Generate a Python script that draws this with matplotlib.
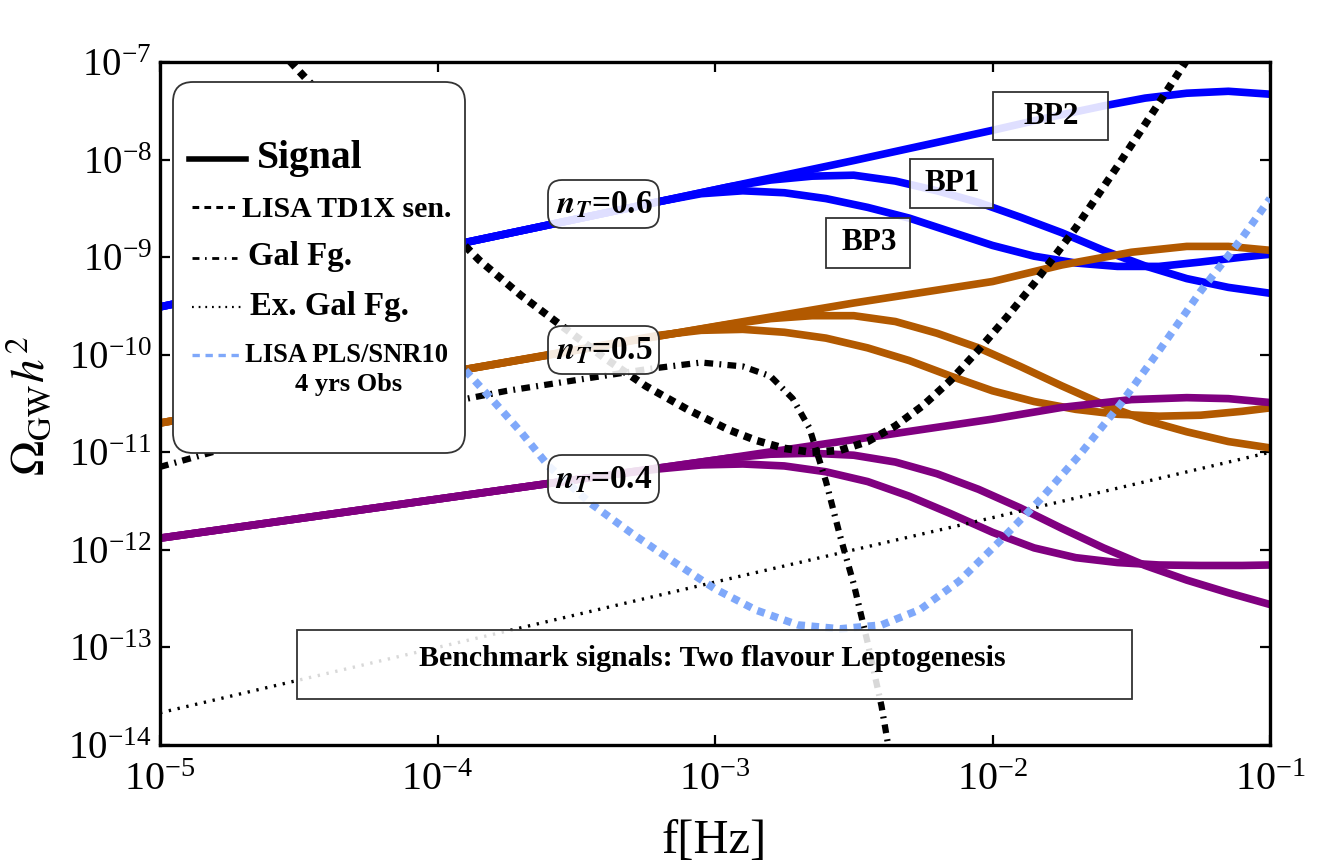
import numpy as np
import matplotlib
matplotlib.use("Agg")
import matplotlib.pyplot as plt
from matplotlib.patches import FancyBboxPatch, Rectangle
from matplotlib.lines import Line2D
from matplotlib.ticker import NullLocator

plt.rcParams['font.family'] = ['Liberation Serif', 'DejaVu Serif']
plt.rcParams['mathtext.fontset'] = 'stix'

# ---------------- data (log10 f [Hz], log10 Omega_GW h^2) ----------------
# n_T = 0.6 (blue)
bp2_06_lf = [-5, -4, -3, -2.5, -2, -1.8, -1.6, -1.45, -1.3, -1.15, -1.0]
bp2_06_lo = [-9.51, -8.91, -8.31, -8.01, -7.70, -7.57, -7.45, -7.37, -7.32, -7.30, -7.33]
bp1_06_lf = [-5, -4, -3.25, -3.1, -2.95, -2.8, -2.65, -2.5, -2.35, -2.2, -2.05, -1.9, -1.75, -1.6, -1.45, -1.3, -1.15, -1.0]
bp1_06_lo = [-9.51, -8.91, -8.46, -8.37, -8.28, -8.21, -8.17, -8.16, -8.22, -8.32, -8.44, -8.59, -8.75, -8.93, -9.09, -9.22, -9.31, -9.37]
bp3_06_lf = [-5, -4, -3.4, -3.2, -3.05, -2.9, -2.75, -2.6, -2.45, -2.3, -2.15, -2.0, -1.85, -1.7, -1.55, -1.4, -1.25, -1.1, -1.0]
bp3_06_lo = [-9.51, -8.91, -8.55, -8.43, -8.35, -8.32, -8.34, -8.40, -8.49, -8.60, -8.74, -8.88, -8.99, -9.06, -9.095, -9.095, -9.05, -9.0, -8.97]

# n_T = 0.5 (orange)
bp2_05_lf = [-5, -4, -3, -2.5, -2.0, -1.75, -1.5, -1.3, -1.15, -1.0]
bp2_05_lo = [-10.70, -10.20, -9.71, -9.47, -9.25, -9.08, -8.95, -8.89, -8.89, -8.93]
bp1_05_lf = [-5, -4, -3.25, -3.1, -2.95, -2.8, -2.65, -2.5, -2.35, -2.2, -2.05, -1.9, -1.75, -1.6, -1.45, -1.3, -1.15, -1.0]
bp1_05_lo = [-10.70, -10.20, -9.83, -9.76, -9.69, -9.63, -9.60, -9.60, -9.66, -9.78, -9.93, -10.12, -10.32, -10.51, -10.67, -10.79, -10.89, -10.955]
bp3_05_lf = [-5, -4, -3.4, -3.2, -3.05, -2.9, -2.75, -2.6, -2.45, -2.3, -2.15, -2.0, -1.85, -1.7, -1.55, -1.4, -1.25, -1.1, -1.0]
bp3_05_lo = [-10.70, -10.20, -9.90, -9.80, -9.75, -9.74, -9.77, -9.83, -9.93, -10.06, -10.22, -10.37, -10.48, -10.56, -10.61, -10.63, -10.62, -10.58, -10.545]

# n_T = 0.4 (purple)
bp2_04_lf = [-5, -4, -3, -2.5, -2.0, -1.75, -1.5, -1.3, -1.15, -1.0]
bp2_04_lo = [-11.88, -11.48, -11.08, -10.87, -10.66, -10.54, -10.46, -10.44, -10.45, -10.49]
bp1_04_lf = [-5, -4, -3.25, -3.1, -2.95, -2.8, -2.65, -2.5, -2.35, -2.2, -2.05, -1.9, -1.75, -1.6, -1.45, -1.3, -1.15, -1.0]
bp1_04_lo = [-11.88, -11.48, -11.18, -11.12, -11.06, -11.02, -11.01, -11.03, -11.10, -11.22, -11.38, -11.57, -11.78, -11.98, -12.16, -12.31, -12.44, -12.56]
bp3_04_lf = [-5, -4, -3.4, -3.2, -3.05, -2.9, -2.75, -2.6, -2.45, -2.3, -2.15, -2.0, -1.85, -1.7, -1.55, -1.4, -1.25, -1.1, -1.0]
bp3_04_lo = [-11.88, -11.48, -11.24, -11.17, -11.13, -11.12, -11.14, -11.20, -11.30, -11.45, -11.63, -11.82, -11.98, -12.08, -12.13, -12.155, -12.16, -12.16, -12.155]

# LISA TD1X sensitivity
lisa_lf = [-4.6, -4.5, -4.25, -4.0, -3.85, -3.7, -3.55, -3.4, -3.25, -3.1, -2.95, -2.85, -2.75, -2.65, -2.55, -2.45,
           -2.35, -2.25, -2.15, -2.05, -1.95, -1.85, -1.7, -1.55, -1.4, -1.3]
lisa_lo = [-6.78, -7.09, -7.85, -8.60, -9.03, -9.39, -9.71, -10.03, -10.32, -10.56, -10.77, -10.88, -10.96, -11.00, -10.98, -10.89,
           -10.73, -10.52, -10.26, -9.95, -9.62, -9.27, -8.70, -8.07, -7.42, -6.98]

# Galactic foreground
gal_lf = [-5.0, -4.75, -4.5, -4.25, -4.0, -3.75, -3.5, -3.25, -3.05, -2.9, -2.8, -2.72, -2.66, -2.6, -2.55, -2.5, -2.45, -2.4, -2.37]
gal_lo = [-11.15, -10.95, -10.78, -10.63, -10.51, -10.37, -10.26, -10.15, -10.08, -10.12, -10.22, -10.45, -10.75, -11.3, -11.85, -12.35, -12.95, -13.6, -14.1]

# Extra-galactic foreground
exgal_lf = [-5, -4, -3, -2, -1]
exgal_lo = [-13.67, -13.00, -12.33, -11.67, -11.00]

# LISA PLS / SNR10, 4 yrs
pls_lf = [-4.3, -4.1, -3.9, -3.8, -3.7, -3.6, -3.45, -3.3, -3.15, -3.0, -2.85, -2.7, -2.55, -2.4, -2.26, -2.12,
          -1.97, -1.83, -1.69, -1.54, -1.40, -1.25, -1.1, -1.0]
pls_lo = [-8.85, -9.55, -10.16, -10.47, -10.79, -11.14, -11.52, -11.83, -12.12, -12.40, -12.62, -12.77, -12.81, -12.77, -12.61, -12.32,
          -11.90, -11.49, -11.04, -10.51, -9.96, -9.35, -8.80, -8.40]

xticks = [1e-5, 1e-4, 1e-3, 1e-2, 1e-1]
yticks = [1e-14, 1e-13, 1e-12, 1e-11, 1e-10, 1e-9, 1e-8, 1e-7]

BLUE = '#0000FF'
ORANGE = '#B25900'
PURPLE = '#800080'
LBLUE = '#7FA8FA'

def p(lf, lo):
    return 10 ** np.asarray(lf, float), 10 ** np.asarray(lo, float)

W, H = 1334, 865
fig = plt.figure(figsize=(W / 100, H / 100), dpi=100)
ax = fig.add_axes([160 / W, (H - 745) / H, 1110 / W, 683 / H])
ax.set_xscale('log')
ax.set_yscale('log')
ax.set_xlim(1e-5, 1e-1)
ax.set_ylim(1e-14, 1e-7)

lw_sig = 5.5
for (lf, lo, c) in [(bp2_06_lf, bp2_06_lo, BLUE), (bp1_06_lf, bp1_06_lo, BLUE), (bp3_06_lf, bp3_06_lo, BLUE),
                    (bp2_05_lf, bp2_05_lo, ORANGE), (bp1_05_lf, bp1_05_lo, ORANGE), (bp3_05_lf, bp3_05_lo, ORANGE),
                    (bp2_04_lf, bp2_04_lo, PURPLE), (bp1_04_lf, bp1_04_lo, PURPLE), (bp3_04_lf, bp3_04_lo, PURPLE)]:
    x, y = p(lf, lo)
    ax.plot(x, y, color=c, lw=lw_sig, solid_capstyle='butt', solid_joinstyle='round', zorder=2)

x, y = p(exgal_lf, exgal_lo)
ax.plot(x, y, color='black', lw=2.4, linestyle=(0, (0.7, 2.0)), zorder=3)
x, y = p(gal_lf, gal_lo)
ax.plot(x, y, color='black', lw=4.5, linestyle=(0, (1.4, 1.0, 0.3, 1.0)), zorder=3)
x, y = p(lisa_lf, lisa_lo)
ax.plot(x, y, color='black', lw=5.5, linestyle=(0, (1.0, 0.85)), zorder=3)
x, y = p(pls_lf, pls_lo)
ax.plot(x, y, color=LBLUE, lw=5.5, linestyle=(0, (1.0, 0.85)), zorder=3)

ax.set_xticks(xticks)
ax.set_yticks(yticks)
ax.xaxis.set_minor_locator(NullLocator())
ax.yaxis.set_minor_locator(NullLocator())
ax.tick_params(which='major', direction='in', top=True, right=True, length=7, width=1.6)
ax.tick_params(axis='x', labelsize=29, pad=12)
ax.tick_params(axis='y', labelsize=28, pad=6)
for s in ax.spines.values():
    s.set_linewidth(2.4)

fig.text(30 / W, 1 - 406 / H, r'$\Omega_{\rm GW}h^2$', rotation=90, ha='center', va='center', fontsize=34)
fig.text(714 / W, 1 - 841 / H, 'f[Hz]', ha='center', va='center', fontsize=35)

# ---------------- annotations (pixel layout) ----------------
T = fig.dpi_scale_trans
def P(x, y):
    return (x / 100.0, (H - y) / 100.0)

def rect(x0, y0, x1, y1, rounded=0.0, alpha=0.88, z=6, lw=1.3):
    (a, b) = P(x0, y1)
    w = (x1 - x0) / 100.0
    h = (y1 - y0) / 100.0
    if rounded > 0:
        patch = FancyBboxPatch((a, b), w, h, boxstyle='round,pad=0,rounding_size=%g' % rounded,
                               transform=T, facecolor=(1, 1, 1, alpha), edgecolor='#333333', lw=lw,
                               zorder=z, clip_on=False)
    else:
        patch = Rectangle((a, b), w, h, transform=T, facecolor=(1, 1, 1, alpha),
                          edgecolor='#333333', lw=lw, zorder=z, clip_on=False)
    ax.add_patch(patch)

def txt(x, y, s, fs, ha='center', va='center', z=7, **kw):
    ax.text(*P(x, y), s, transform=T, fontsize=fs, ha=ha, va=va, zorder=z,
            fontweight='bold', clip_on=False, **kw)

# n_T labels
for cy, lab in [(204, r'$\mathbfit{n}_{\mathbfit{T}}$=0.6'), (350, r'$\mathbfit{n}_{\mathbfit{T}}$=0.5'),
                (479, r'$\mathbfit{n}_{\mathbfit{T}}$=0.4')]:
    rect(548, cy - 24, 659, cy + 24, rounded=0.14)
    txt(604, cy + 1, lab, 24)

# BP labels
for (x0, y0, x1, y1, lab) in [(993, 92, 1108, 140, 'BP2'), (910, 159, 993, 208, 'BP1'), (826, 218, 910, 268, 'BP3')]:
    rect(x0, y0, x1, y1)
    txt((x0 + x1) / 2 + 1, (y0 + y1) / 2, lab, 22.5)

# Benchmark box
rect(297, 630, 1132, 699, alpha=0.85)
txt(712, 658, 'Benchmark signals: Two flavour Leptogenesis', 21.5)

# Legend
rect(173, 82, 465, 453, rounded=0.2, alpha=1.0, z=8, lw=1.3)
def key(x0, x1, y, **kw):
    a = P(x0, y); b = P(x1, y)
    ax.add_line(Line2D([a[0], b[0]], [a[1], b[1]], transform=T, zorder=9, clip_on=False, **kw))

key(189, 246, 159, color='black', lw=4)
txt(257, 168, 'Signal', 28.5, ha='left', va='baseline', z=9)
key(192, 239, 207, color='black', lw=2.2, linestyle=(0, (2.2, 1.7)))
txt(242, 217, 'LISA TD1X sen.', 21.5, ha='left', va='baseline', z=9)
key(192, 237, 258, color='black', lw=2.0, linestyle=(0, (2.5, 2.0, 0.6, 2.0)))
txt(248, 265, 'Gal Fg.', 23.7, ha='left', va='baseline', z=9)
key(192, 244, 307, color='black', lw=1.6, linestyle=(0, (0.8, 2.2)))
txt(250, 315, 'Ex. Gal Fg.', 23.7, ha='left', va='baseline', z=9)
key(192, 240, 355, color=LBLUE, lw=2.4, linestyle=(0, (2.2, 1.7)))
txt(245, 362, 'LISA PLS/SNR10', 19.2, ha='left', va='baseline', z=9)
txt(295, 391, '4 yrs Obs', 19, ha='left', va='baseline', z=9)

fig.savefig('out.png', dpi=100)
